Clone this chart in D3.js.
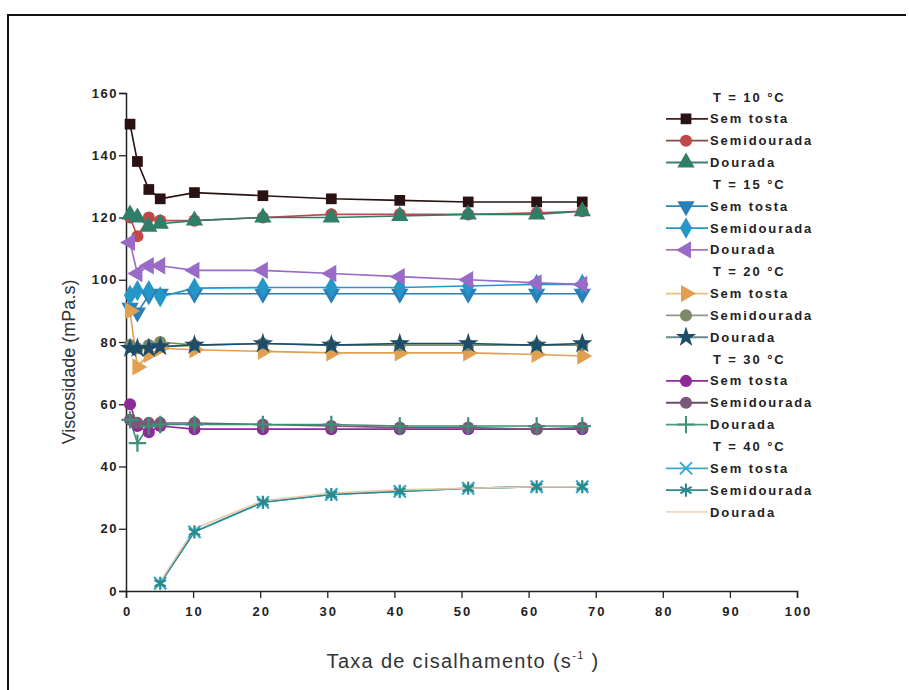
<!DOCTYPE html>
<html><head><meta charset="utf-8">
<script src="https://cdn.jsdelivr.net/npm/d3@7"></script>
<style>
html,body{margin:0;padding:0;background:#fff;}
svg{display:block;}
text{font-family:"Liberation Sans",Arial,sans-serif;}
</style></head>
<body>
<script>
// ---- data ----
const shearRate = [0.6, 1.7, 3.4, 5.1, 10.2, 20.4, 30.6, 40.8, 51.0, 61.2, 68.0];
const xTicks = [0,10,20,30,40,50,60,70,80,90,100];
const yTicks = [0,20,40,60,80,100,120,140,160];

const t10SemTosta    = [150, 138, 129, 126, 128, 127, 126, 125.5, 125, 125, 125];
const t10Semidourada = [120, 114, 120, 119, 119, 120, 121, 121, 121, 121.5, 122];
const t10Dourada     = [121, 120, 117, 118, 119, 120, 120, 120.5, 121, 121, 122];
const t15SemTosta    = [91, 89.5, 95, 95.5, 95.5, 95.5, 95.5, 95.5, 95.5, 95.5, 95.5];
const t15Semidourada = [95, 96.5, 96.5, 94.5, 97.3, 97.5, 97.5, 97.5, 98, 98.5, 98.5];
const t15Dourada     = [112, 102, 104.5, 104.5, 103, 103, 102, 101, 100, 99, 98.5];
const t20SemTosta    = [90, 72, 76, 78, 77.5, 77, 76.5, 76.5, 76.5, 76, 75.5];
const t20Semidourada = [79, 78, 79, 80, 79, 79.5, 79, 79, 79, 79, 79];
const t20Dourada     = [78, 78, 78, 78.5, 79, 79.5, 79, 79.5, 79.5, 79, 79.5];
const t30SemTosta    = [60, 53, 51, 53, 52, 52, 52, 52, 52, 52, 52];
const t30Semidourada = [55, 54, 54, 54, 54, 53.5, 53, 52.5, 52.5, 52, 52.5];
const t30Dourada     = [55, 47.5, 53, 53.5, 53.5, 53.5, 53.5, 53, 53, 53, 53];
const t40SemTosta    = [null, null, null, 2.5, 19, 28.5, 31, 32, 33, 33.5, 33.5];
const t40Semidourada = [null, null, null, 2.5, 19, 28.5, 31, 32, 33, 33.5, 33.5];
const t40Dourada     = [null, null, null, 3, 20, 29, 31.5, 32.5, 33, 33.5, 33.5];

const groupLabels = ["T = 10 °C","T = 15 °C","T = 20 °C","T = 30 °C","T = 40 °C"];
const sampleLabels = ["Sem tosta","Semidourada","Dourada"];

// ---- styles ----
const series = [
  {v:t10SemTosta,    c:"#2a1212", lc:"#4a1a1a", m:"square"},
  {v:t10Semidourada, c:"#c04848", lc:"#8a4848", m:"circle"},
  {v:t10Dourada,     c:"#2e7e68", lc:"#3f7f76", m:"tri"},
  {v:t15SemTosta,    c:"#2a7fb8", lc:"#2a8ab0", m:"triDown"},
  {v:t15Semidourada, c:"#2496c8", lc:"#2496c8", m:"diamond"},
  {v:t15Dourada,     c:"#9a6ac8", lc:"#b070c0", m:"triLeft"},
  {v:t20SemTosta,    c:"#e0a050", lc:"#e8c080", m:"triRight"},
  {v:t20Semidourada, c:"#7d8a68", lc:"#8a9a88", m:"circle"},
  {v:t20Dourada,     c:"#1d4d68", lc:"#6a8a90", m:"star"},
  {v:t30SemTosta,    c:"#8e2a98", lc:"#8e2a98", m:"circle"},
  {v:t30Semidourada, c:"#7a5878", lc:"#6a4a6a", m:"circle"},
  {v:t30Dourada,     c:"#3f8f78", lc:"#4a9a80", m:"plus"},
  {v:t40SemTosta,    c:"#3aa8d0", lc:"#3aa8d0", m:"x"},
  {v:t40Semidourada, c:"#2a8a8a", lc:"#2a8a8a", m:"asterisk"},
  {v:t40Dourada,     c:"#e8c8a8", lc:"#f0d8c0", m:"none"}
];

const W = 909, H = 690;
const svg = d3.select("body").append("svg").attr("width", W).attr("height", H);

// frame
svg.append("line").attr("x1",7).attr("x2",906).attr("y1",15).attr("y2",15).attr("stroke","#111").attr("stroke-width",2);
svg.append("line").attr("x1",8).attr("x2",8).attr("y1",14).attr("y2",690).attr("stroke","#111").attr("stroke-width",2);

const x = d3.scaleLinear().domain([0,100]).range([126,797]);
const y = d3.scaleLinear().domain([0,160]).range([591,93]);

// axes
const fontTick = "13px";
const xAxis = svg.append("g").attr("transform","translate(0,591)");
xAxis.call(d3.axisBottom(x).tickValues(d3.range(5,100,10)).tickSize(4).tickFormat(""));
xAxis.call(d3.axisBottom(x).tickValues(xTicks).tickSize(7).tickFormat(d3.format("d")));
xAxis.selectAll("path.domain").attr("stroke","#222").attr("stroke-width",1.5);
xAxis.selectAll("line").attr("stroke","#222").attr("stroke-width",1.3);
xAxis.selectAll("text").attr("font-size",fontTick).attr("font-weight","bold").attr("fill","#222")
  .attr("letter-spacing","2px").attr("dx","1px").attr("dy","1.15em");

const yAxis = svg.append("g").attr("transform","translate(126,0)");
yAxis.call(d3.axisLeft(y).tickValues(d3.range(10,160,20)).tickSize(4).tickFormat(""));
yAxis.call(d3.axisLeft(y).tickValues(yTicks).tickSize(7).tickFormat(d3.format("d")));
yAxis.selectAll("path.domain").attr("stroke","#222").attr("stroke-width",1.5);
yAxis.selectAll("line").attr("stroke","#222").attr("stroke-width",1.3);
yAxis.selectAll("text").attr("font-size",fontTick).attr("font-weight","bold").attr("fill","#222")
  .attr("letter-spacing","1.5px").attr("x",-8);

// axis titles
svg.append("text").attr("transform","translate(75,362) rotate(-90)").attr("text-anchor","middle")
  .attr("font-size","18px").attr("fill","#333").text("Viscosidade (mPa.s)");
const xt = svg.append("text").attr("x",463).attr("y",668).attr("text-anchor","middle")
  .attr("font-size","20px").attr("letter-spacing","1.3px").attr("fill","#333");
xt.append("tspan").text("Taxa de cisalhamento (s");
xt.append("tspan").attr("font-size","11px").attr("dy","-9").text("-1");
xt.append("tspan").attr("dy","9").text(" )");

// markers
function markerPath(m, size){
  const map = {square:d3.symbolSquare, circle:d3.symbolCircle, tri:d3.symbolTriangle, triDown:d3.symbolTriangle,
    triLeft:d3.symbolTriangle, triRight:d3.symbolTriangle, diamond:d3.symbolDiamond, star:d3.symbolStar,
    plus:d3.symbolPlus, x:d3.symbolTimes, asterisk:d3.symbolAsterisk};
  const rot = {triDown:180, triLeft:-90, triRight:90};
  return {path: d3.symbol().type(map[m]).size(size)(), rot: rot[m]||0,
    stroke: ["plus","x","asterisk"].includes(m)};
}
const sizes = {square:115, circle:115, tri:130, triDown:130, triLeft:130, triRight:130, diamond:130, star:130, plus:100, x:100, asterisk:120};

const line = d3.line().defined(d=>d[1]!=null).x(d=>x(d[0])).y(d=>y(d[1]));
const plot = svg.append("g");
series.forEach(s=>{
  const pts = shearRate.map((r,i)=>[r,s.v[i]]);
  plot.append("path").attr("d",line(pts)).attr("fill","none").attr("stroke",s.c).attr("stroke-width",1.6);
});
series.forEach(s=>{
  if(s.m==="none") return;
  const mk = markerPath(s.m,sizes[s.m]);
  shearRate.forEach((r,i)=>{
    if(s.v[i]==null) return;
    const p = plot.append("path").attr("d",mk.path)
      .attr("transform",`translate(${x(r)},${y(s.v[i])}) rotate(${mk.rot})`);
    if(mk.stroke) p.attr("fill","none").attr("stroke",s.c).attr("stroke-width",2.2);
    else p.attr("fill",s.c);
  });
});

// legend
const lg = svg.append("g");
const row0 = 97, rowH = 21.84;
const legFont = "13px", legSpacing = "1.9px";
let row = 0;
groupLabels.forEach((g,gi)=>{
  lg.append("text").attr("x",713).attr("y",row0+row*rowH).attr("dy","0.35em")
    .attr("font-size",legFont).attr("font-weight","bold").attr("fill","#222").attr("letter-spacing",legSpacing).text(g);
  row++;
  sampleLabels.forEach((sl,si)=>{
    const s = series[gi*3+si];
    const yy = row0+row*rowH;
    lg.append("line").attr("x1",666).attr("x2",708).attr("y1",yy).attr("y2",yy).attr("stroke",s.lc).attr("stroke-width",1.8);
    if(s.m!=="none"){
      const mk = markerPath(s.m,sizes[s.m]);
      const p = lg.append("path").attr("d",mk.path).attr("transform",`translate(686,${yy}) rotate(${mk.rot})`);
      if(mk.stroke) p.attr("fill","none").attr("stroke",s.c).attr("stroke-width",2);
      else p.attr("fill",s.c);
    }
    lg.append("text").attr("x",710).attr("y",yy).attr("dy","0.35em")
      .attr("font-size",legFont).attr("font-weight","bold").attr("fill","#222").attr("letter-spacing",legSpacing).text(sl);
    row++;
  });
});
</script>
</body></html>
